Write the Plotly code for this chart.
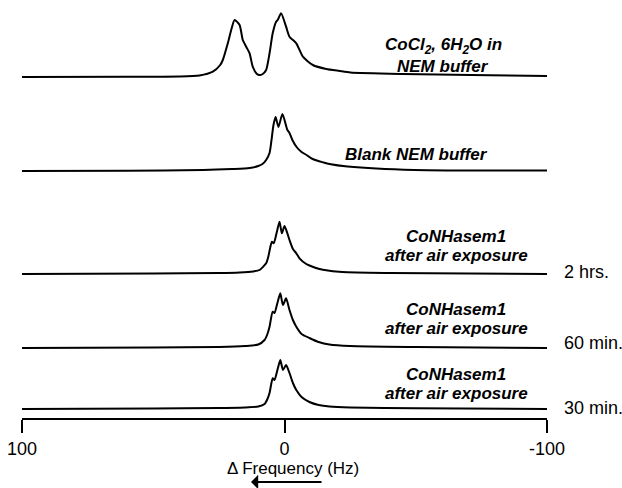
import plotly.graph_objects as go

# ---- data (Hz, intensity above each trace's baseline) ----
cocl2_hz = [100, 60, 40, 32.4, 27.3, 24.5, 23.5, 21.6, 20.3, 19.0, 17.1, 15.9, 14.6, 13.3, 12.1, 10.5, 9.5, 8.3, 7.0,
            5.7, 4.5, 3.2, 2.6, 1.3, -0.6, -1.9, -4.5, -7.0, -10.8, -15.9, -21.0, -25.1, -45, -70.9, -100]
cocl2_int = [0, 0.3, 0.5, 1.5, 5.3, 12, 17, 33.7, 47, 57, 52, 37, 30.3, 23.7, 10.3, 3, 2, 3, 7,
             23.7, 43.7, 55.3, 57, 63.7, 50.3, 40.3, 33.7, 20.3, 12, 8, 6, 4.5, 3, 2, 1]

blank_hz = [100, 60, 31, 20, 13.3, 10, 8.4, 7.0, 5.7, 5.0, 4.2, 3.4, 2.3, 0.8, -1.1, -1.9, -3, -4.6, -6.5, -8.4,
            -10.7, -14.9, -17.1, -24, -49.5, -100]
blank_int = [0, 0.3, 1, 2, 3, 5, 7, 11, 18, 30, 46, 54, 44, 57, 41, 38, 31, 24, 19, 16,
             12, 8.5, 7, 4.5, 1, 0.5]

hrs2_hz = [100, 50, 25, 17.1, 12, 9.5, 7.0, 6.2, 5.4, 4.8, 4.1, 2.9, 1.9, 1.0, 0, -1.3, -1.9, -3.2, -4.5, -5.7,
           -8.3, -9.5, -13.3, -14.6, -22, -40, -100]
hrs2_int = [0, 0.5, 1, 1.5, 2.5, 4, 10.7, 17, 27, 32.3, 30.7, 42.3, 52.3, 40.7, 48, 39, 34, 25, 20.7, 15.7,
            10, 8.5, 5, 4.3, 2, 1, 0]

min60_hz = [100, 50, 25, 15, 10, 7.6, 6.5, 5.7, 4.5, 3.8, 2.7, 1.6, 0.6, -0.6, -1.9, -3.2, -4.5, -6.5, -9.5,
            -13, -17.1, -25, -50, -100]
min60_int = [0, 0.5, 1, 2, 3.5, 8, 14, 21.3, 36.3, 35, 45, 54.7, 43, 49.7, 38, 28, 21.3, 14, 10,
             6, 3.5, 2, 1, 0]

min30_hz = [100, 50, 25, 15, 10, 7.6, 6.5, 5.7, 4.5, 3.8, 2.7, 1.6, 0.6, -0.6, -1.9, -3.2, -4.5, -6.5, -9.5,
            -13, -17.1, -25, -50, -100]
min30_int = [0, 0.5, 1, 1.5, 2.5, 5, 10, 16, 30.7, 29, 39, 49, 39, 44, 36, 26, 19, 12, 7,
             4, 2.5, 1.5, 0.8, 0]

baselines = [341, 247, 144, 70, 9]
tick_vals = [100, 0, -100]
tick_text = ["100", "0", "-100"]
time_labels = ["2 hrs.", "60 min.", "30 min."]

series = [(cocl2_hz, cocl2_int), (blank_hz, blank_int), (hrs2_hz, hrs2_int),
          (min60_hz, min60_int), (min30_hz, min30_int)]

FONT = "Arial, Liberation Sans, sans-serif"
L, R, T, B, W, H = 22, 75, 0, 70, 622, 488
PW, PH = W - L - R, H - T - B


def px2paper(px, py):
    return (px - L) / PW, (H - B - py) / PH


fig = go.Figure()
for (hz, inten), base in zip(series, baselines):
    fig.add_trace(go.Scatter(
        x=hz, y=[v + base for v in inten], mode="lines",
        line=dict(color="black", width=2, shape="spline", smoothing=0.6),
        hoverinfo="skip", showlegend=False))

ann = []


def lab(text, px, py, size=17, bold_italic=True, xanchor="center"):
    t = "<b><i>%s</i></b>" % text if bold_italic else text
    xp, yp = px2paper(px, py)
    ann.append(dict(text=t, x=xp, y=yp, xref="paper", yref="paper", showarrow=False,
                    xanchor=xanchor, yanchor="middle",
                    font=dict(family=FONT, size=size, color="black")))


lab("CoCl<sub>2</sub>, 6H<sub>2</sub>O in", 443, 46)
lab("NEM buffer", 443, 66)
lab("Blank NEM buffer", 416, 154)
for yc in [236, 309, 374]:
    lab("CoNHasem1", 456, yc)
    lab("after air exposure", 456, yc + 19)
for t, yc in zip(time_labels, [272, 343, 408]):
    lab(t, 562, yc, size=18, bold_italic=False, xanchor="left")

lab("\u0394 Frequency (Hz)", 293, 468, size=17, bold_italic=False)

ax_, ay_ = px2paper(251, 482)
ann.append(dict(text="", x=ax_, y=ay_, xref="paper", yref="paper", ax=72, ay=0,
                showarrow=True, arrowhead=1, arrowsize=1.2, arrowwidth=2,
                arrowcolor="black", standoff=0))

fig.update_layout(
    width=W, height=H,
    margin=dict(l=L, r=R, t=T, b=B),
    paper_bgcolor="white", plot_bgcolor="white",
    annotations=ann,
    xaxis=dict(range=[100, -100], showgrid=False, zeroline=False,
               showline=True, linecolor="black", linewidth=2,
               ticks="outside", ticklen=13, tickwidth=2, tickcolor="black",
               tickvals=tick_vals, ticktext=tick_text,
               tickfont=dict(family=FONT, size=18, color="black")),
    yaxis=dict(range=[0, 418], visible=False, showgrid=False, zeroline=False),
)

fig.write_html("out.html")
